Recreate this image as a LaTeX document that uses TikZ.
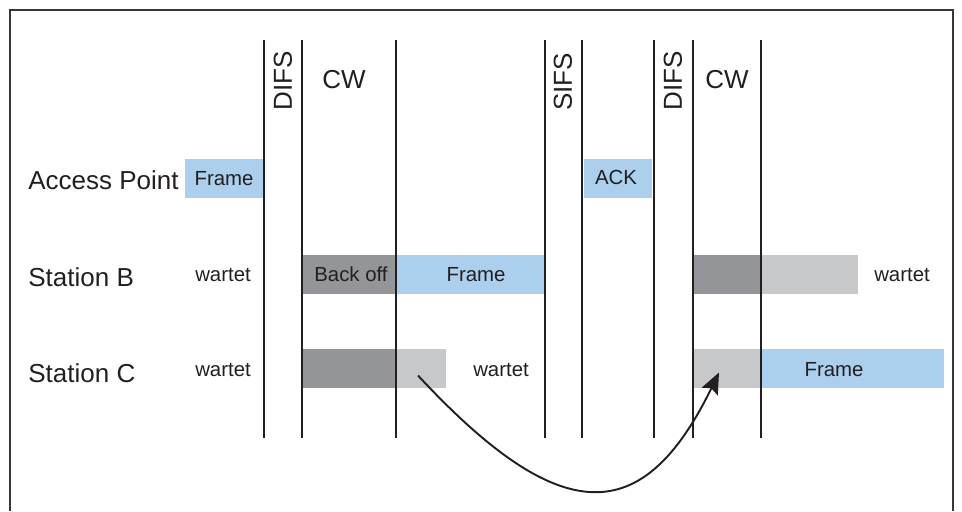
\documentclass[tikz,border=0pt]{standalone}
\usepackage{fontspec}
\setmainfont{Liberation Sans}
\usetikzlibrary{arrows.meta, calc}
\definecolor{ink}{RGB}{35,31,32}
\definecolor{rim}{RGB}{55,55,55}
\definecolor{frameblue}{RGB}{171,207,236}
\definecolor{backoffgray}{RGB}{148,149,153}
\definecolor{waitgray}{RGB}{199,200,202}

% one coloured bar: name, left, right, row centre, fill
\newcommand{\slot}[5]{%
  \node[slot, fill=#5, minimum width={(#3-#2)*0.02cm}] (#1) at ({(#2+#3)/2},#4) {};}

\begin{document}
\begin{tikzpicture}[x=0.02cm, y=-0.02cm,
    slot/.style={rectangle, inner sep=0, outer sep=0, minimum height={39*0.02cm}},
    big/.style={font=\fontsize{14.8}{17}\selectfont, text=ink, inner sep=0},
    small/.style={font=\fontsize{11.6}{14}\selectfont, text=ink, inner sep=0},
    marker/.style={line width=1.1pt, draw=ink}]
    \useasboundingbox (0,0) rectangle (962,511);

    % outer frame, open at the bottom
    \draw[line width=1.1pt, rim] (10,511) -- (10,10) -- (953,10) -- (953,511);

    % Access Point row
    \slot{apframe}{185}{263}{178.5}{frameblue}
    \slot{ack}{584}{652}{178.5}{frameblue}

    % Station B row
    \slot{bback}{302}{396}{274.5}{backoffgray}
    \slot{bframe}{396}{545}{274.5}{frameblue}
    \slot{bcw}{693}{761}{274.5}{backoffgray}
    \slot{bwait}{761}{858}{274.5}{waitgray}

    % Station C row
    \slot{cback}{302}{396}{368.5}{backoffgray}
    \slot{cwait}{396}{446}{368.5}{waitgray}
    \slot{cresume}{693}{761}{368.5}{waitgray}
    \slot{cframe}{761}{944}{368.5}{frameblue}

    % time markers
    \foreach \x in {264,302,396,545,582,654,693,761}
        \draw[marker] (\x,40) -- (\x,438);

    % interval names
    \node[big, rotate=90] (difsa) at (283,81) {DIFS};
    \node[big, anchor=base] (cwa) at (344,88) {CW};
    \node[big, rotate=90] (sifs) at (563,82) {SIFS};
    \node[big, rotate=90] (difsb) at (673,81) {DIFS};
    \node[big, anchor=base] (cwb) at (727,88) {CW};

    % row names
    \node[big, anchor=base west] (ap) at (28,189) {Access Point};
    \node[big, anchor=base west] (stb) at (28,286) {Station B};
    \node[big, anchor=base west] (stc) at (28,382) {Station C};

    % bar texts
    \node[small, anchor=base] (apframetxt) at (224,185) {Frame};
    \node[small, anchor=base] (acktxt) at (616,184) {ACK};
    \node[small, anchor=base] (bbacktxt) at (351,281) {Back off};
    \node[small, anchor=base] (bframetxt) at (476,281) {Frame};
    \node[small, anchor=base] (cframetxt) at (834,376) {Frame};
    \node[small, anchor=base] (bwaita) at (223,281) {wartet};
    \node[small, anchor=base] (bwaitb) at (902,281) {wartet};
    \node[small, anchor=base] (cwaita) at (223,376) {wartet};
    \node[small, anchor=base] (cwaitb) at (501,376) {wartet};

    % remaining back off carried over
    \draw[-{Stealth[length=12pt, width=10pt, inset=2pt]}, line width=1.1pt, ink]
        ($(cwait.center)+(-3,7)$) .. controls +(143,154) and +(-76,156) .. ($(cresume.center)+(-8,4)$);
\end{tikzpicture}
\end{document}
